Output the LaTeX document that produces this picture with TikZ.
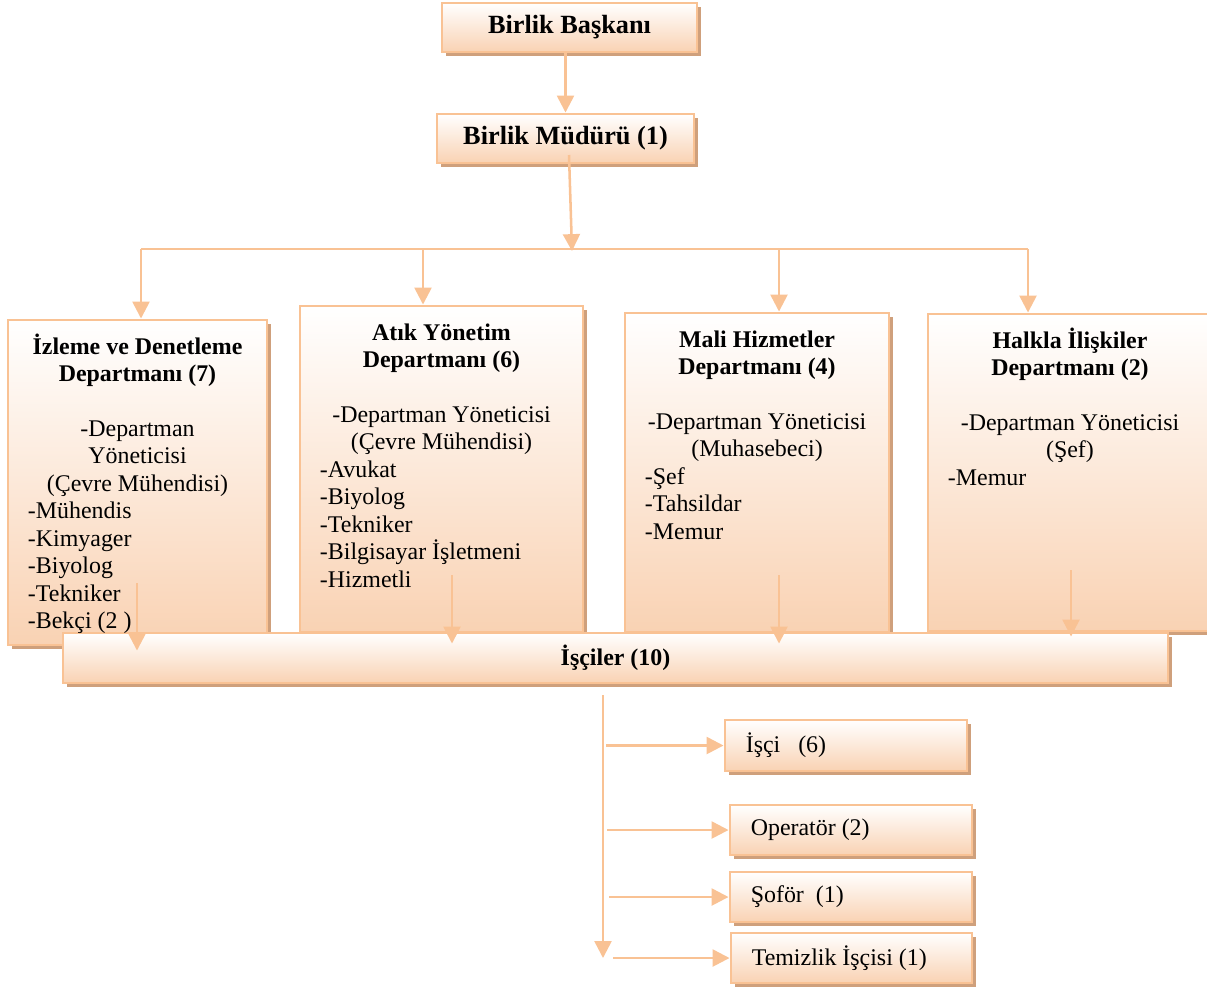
\documentclass[tikz,border=0pt]{standalone}
\usepackage{fontspec}
\setmainfont{Liberation Serif}
\usetikzlibrary{arrows.meta,shadows,fit}

\definecolor{peachline}{HTML}{F9C294}
\definecolor{peachfill}{HTML}{F9D2B3}
\definecolor{shadowtan}{HTML}{CFA07C}

% text block of a department: centred part, then flush-left list
\newcommand{\depttext}[3]{\vtop{\hsize=#1\parindent=0pt\centering #2\par\raggedright #3\par}}

\begin{document}
\begin{tikzpicture}[x=0.025cm, y=-0.025cm,
    font=\fontsize{17}{19.55}\selectfont,
    orgbox/.style={draw=peachline, line width=2.1pt, top color=white, bottom color=peachfill,
      inner sep=0pt, drop shadow={shadow xshift=2.8pt, shadow yshift=-2.8pt, fill=shadowtan, opacity=1}},
    headtext/.style={inner sep=0pt, font=\fontsize{18.7}{21}\selectfont\bfseries},
    itemtext/.style={inner sep=0pt, anchor=west},
    link/.style={draw=peachline, line width=1.8pt},
    arr/.style={link, -{Triangle[length=12pt, width=12pt]}}]
  \useasboundingbox (0,0) rectangle (1207,989);

  % top of the chart
  \node[orgbox, fit={(442,3)(697,52)}] (baskan) {};
  \node[headtext] (baskantext) at (baskan) {Birlik Başkanı};
  \node[orgbox, fit={(437,114)(694,163)}] (mudur) {};
  \node[headtext] (mudurtext) at (mudur) {Birlik Müdürü (1)};
  \draw[arr] (mudur.north |- baskan.south) -- (mudur.north);

  % departments
  \node[orgbox, fit={(8,320)(267,645)}] (izleme) {};
  \node[orgbox, fit={(300,306)(583,632)}] (atik) {};
  \node[orgbox, fit={(625,313)(889,632)}] (mali) {};
  \node[orgbox, fit={(928,314)(1212,631)}] (halkla) {};

  % distribution line
  \coordinate (busleft) at (141,249);
  \coordinate (busright) at (1028,249);
  \coordinate (busmid) at (572,251);
  \coordinate (mudurout) at (569,155);
  \coordinate (busatik) at (423,249);
  \coordinate (busmali) at (779,249);
  \draw[link] (busleft) -- (busright);
  \draw[arr] (mudurout) -- (busmid);
  \draw[arr] (busleft) -- (busleft |- izleme.north);
  \draw[arr] (busatik) -- (busatik |- atik.north);
  \draw[arr] (busmali) -- (busmali |- mali.north);
  \draw[arr] (busright) -- (busright |- halkla.north);

  % workers
  \node[orgbox, fit={(63,633)(1168,683)}] (isciler) {};
  \node[inner sep=0pt, font=\fontsize{17}{19.55}\selectfont\bfseries] (iscilertext) at (isciler) {İşçiler (10)};

  \node[anchor=base, inner sep=0pt] (izlemetext) at (137.5,354)
    {\depttext{5.475cm}{\textbf{İzleme ve Denetleme\\Departmanı (7)}\\[19.55pt]-Departman\\Yöneticisi\\(Çevre Mühendisi)}
      {-Mühendis\\-Kimyager\\-Biyolog\\-Tekniker\\-Bekçi (2 )}};
  \node[anchor=base, inner sep=0pt] (atiktext) at (441.5,340)
    {\depttext{6.075cm}{\textbf{Atık Yönetim\\Departmanı (6)}\\[19.55pt]-Departman Yöneticisi\\(Çevre Mühendisi)}
      {-Avukat\\-Biyolog\\-Tekniker\\-Bilgisayar İşletmeni\\-Hizmetli}};
  \node[anchor=base, inner sep=0pt] (malitext) at (757,347)
    {\depttext{5.6cm}{\textbf{Mali Hizmetler\\Departmanı (4)}\\[19.55pt]-Departman Yöneticisi\\(Muhasebeci)}
      {-Şef\\-Tahsildar\\-Memur}};
  \node[anchor=base, inner sep=0pt] (halklatext) at (1070,348)
    {\depttext{6.1cm}{\textbf{Halkla İlişkiler\\Departmanı (2)}\\[19.55pt]-Departman Yöneticisi\\(Şef)}
      {-Memur}};

  \coordinate (izlemeout) at (137,583);
  \coordinate (atikout) at (452,575);
  \coordinate (maliout) at (779,575);
  \coordinate (halklaout) at (1071,570);
  \foreach \src/\dy in {izlemeout/19, atikout/12, maliout/12, halklaout/5}
    \draw[arr] (\src) -- ([yshift=-\dy*0.025cm]\src |- isciler.north);

  \node[orgbox, fit={(725,720)(967,771)}] (isci) {};
  \node[orgbox, fit={(730,805)(972,855)}] (operator) {};
  \node[orgbox, fit={(730,872)(972,922)}] (sofor) {};
  \node[orgbox, fit={(731,933)(972,983)}] (temizlik) {};
  \node[itemtext] (iscitext) at ([xshift=0.55cm]isci.west) {İşçi~~~(6)};
  \node[itemtext] (operatortext) at ([xshift=0.55cm]operator.west) {Operatör (2)};
  \node[itemtext] (sofortext) at ([xshift=0.55cm]sofor.west) {Şoför~~(1)};
  \node[itemtext] (temizliktext) at ([xshift=0.55cm]temizlik.west) {Temizlik İşçisi (1)};

  \coordinate (trunktop) at (603,695);
  \coordinate (trunkend) at (603,958);
  \draw[arr] (trunktop) -- (trunkend);
  \foreach \name/\gap in {isci/3, operator/4, sofor/6, temizlik/10}
    \draw[arr] ([xshift=\gap*0.025cm]trunktop |- \name.west) -- (\name.west);
\end{tikzpicture}
\end{document}
